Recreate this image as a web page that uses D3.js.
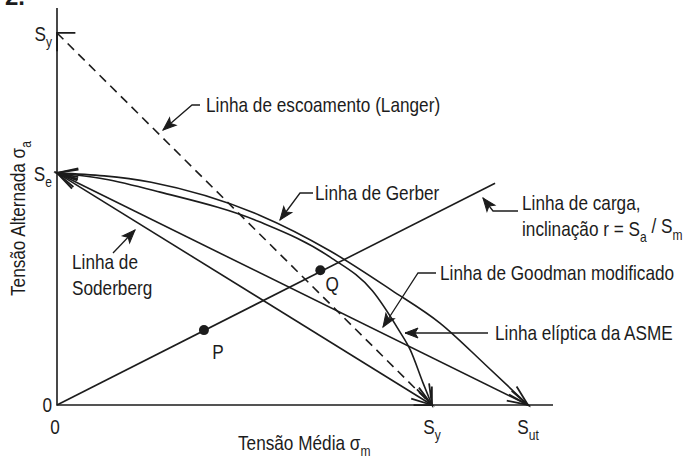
<!DOCTYPE html>
<html>
<head>
<meta charset="utf-8">
<script src="https://cdn.jsdelivr.net/npm/d3@7"></script>
<style>
  body { margin: 0; background: #fff; }
</style>
</head>
<body>
<svg id="chart"></svg>
<script>
// stresses in one common unit on both axes (Sut = 100)
const langer = [[0, 79.0], [79.6, 0]];
const soderberg = [[0, 49.3], [79.6, 0]];
const goodman = [[0, 49.3], [100, 0]];
const gerber = [[0, 49.3], [20, 47.3], [43, 40.3], [58, 32.7], [71, 24.4], [81.3, 17.4], [91, 8.5], [100, 0]];
const asme = [[0, 49.3], [10, 48.0], [21.9, 45.2], [43, 38.9], [58, 31.4], [67, 24.2], [72.5, 16], [75, 11.7], [77.7, 4.7], [79.6, 0]];
const loadLine = [[0, 0], [93, 47.1]];
const points = [{name: "P", m: 31.2, a: 15.9}, {name: "Q", m: 55.9, a: 28.6}];
const xTicks = [{v: 0, s: "0", sub: ""}, {v: 79.6, s: "S", sub: "y"}, {v: 100, s: "S", sub: "ut"}];
const yTicks = [{v: 0, s: "0", sub: ""}, {v: 49.3, s: "S", sub: "e"}, {v: 79.0, s: "S", sub: "y"}];

const W = 688, H = 461;
const ink = "#1c1c1c";
const font = '"Liberation Sans", Arial, sans-serif';
const fs = 20, fsSub = 14, sx = 0.86;   // narrow look: squeeze the glyphs sideways

const svg = d3.select("#chart")
    .attr("width", W)
    .attr("height", H)
    .attr("viewBox", [0, 0, W, H]);

const x = d3.scaleLinear().domain([0, 105.3]).range([57, 553]);
const y = d3.scaleLinear().domain([0, 84.3]).range([405, 8]);

const defs = svg.append("defs");
const marker = (id, d, filled) => defs.append("marker")
    .attr("id", id)
    .attr("markerUnits", "userSpaceOnUse")
    .attr("markerWidth", 60).attr("markerHeight", 60)
    .attr("refX", 0).attr("refY", 0)
    .attr("viewBox", [-30, -30, 60, 60])
    .attr("orient", "auto-start-reverse")
    .append("path")
    .attr("d", d)
    .attr("fill", filled ? ink : "none")
    .attr("stroke", ink)
    .attr("stroke-width", filled ? 1 : 1.8)
    .attr("stroke-linejoin", "miter");
marker("open", "M-21,-5.5L0,0L-21,5.5", false);
marker("wide", "M-13,-13L0,0L-13,13", false);
marker("solid", "M-13,-5L0,0L-13,5L-10,0Z", true);

const g = svg.append("g");

// axes
g.append("path")
    .attr("d", `M${x(0)},${y(84.3)}V${y(0)}H${x(105.3)}`)
    .attr("fill", "none").attr("stroke", ink).attr("stroke-width", 1.6);

const line = d3.line().x(d => x(d[0])).y(d => y(d[1]));
const smooth = d3.line().curve(d3.curveMonotoneX).x(d => x(d[0])).y(d => y(d[1]));

const draw = (data, gen, mk, dash) => g.append("path")
    .datum(data)
    .attr("d", gen)
    .attr("fill", "none")
    .attr("stroke", ink)
    .attr("stroke-width", 1.6)
    .attr("stroke-dasharray", dash || null)
    .attr("marker-start", mk ? `url(#${mk})` : null)
    .attr("marker-end", mk ? `url(#${mk})` : null);

draw(langer, line, "wide", "9,6");
draw(soderberg, line, "open");
draw(goodman, line, "open");
draw(gerber, smooth, "open");
draw(asme, smooth, "open");
draw(loadLine, line, null);

// text helper: squeezed text placed by transform
const styled = sel => sel
    .attr("font-family", font)
    .attr("font-size", fs)
    .attr("fill", ink);
const place = (px, py, rot) => `translate(${px},${py})${rot ? ` rotate(${rot})` : ""} scale(${sx},1)`;
const sub = (sel, s, up) => sel.append("tspan")
    .attr("dy", up ? "-0.45em" : "0.45em")
    .attr("font-size", up ? fs : fsSub)
    .text(s);

// P and Q
const ptOffset = {P: [14, 22], Q: [12, 14]};
g.selectAll("circle.pt")
    .data(points)
    .join("circle")
    .attr("class", "pt")
    .attr("cx", d => x(d.m))
    .attr("cy", d => y(d.a))
    .attr("r", 5)
    .attr("fill", ink);
g.selectAll("text.pt")
    .data(points)
    .join("text")
    .attr("class", "pt")
    .attr("transform", d => place(x(d.m) + ptOffset[d.name][0], y(d.a) + ptOffset[d.name][1]))
    .attr("dy", "0.35em")
    .attr("text-anchor", "middle")
    .call(styled)
    .text(d => d.name);

// tick labels with subscripts
const subLabel = sel => {
    sel.append("tspan").text(d => d.s);
    sel.append("tspan")
        .attr("dy", "0.45em")
        .attr("font-size", fsSub)
        .text(d => d.sub);
};
g.selectAll("text.xt")
    .data(xTicks)
    .join("text")
    .attr("class", "xt")
    .attr("transform", d => place(x(d.v) + (d.v === 0 ? -2 : 0), 427))
    .attr("dy", "0.35em")
    .attr("text-anchor", "middle")
    .call(styled)
    .call(subLabel);
g.selectAll("text.yt")
    .data(yTicks)
    .join("text")
    .attr("class", "yt")
    .attr("transform", d => place(x(0) - 5, y(d.v) + (d.v === 0 ? 0 : 1)))
    .attr("dy", "0.35em")
    .attr("text-anchor", "end")
    .call(styled)
    .call(subLabel);

// axis titles
const xt = g.append("text")
    .attr("transform", place(238, 443))
    .attr("dy", "0.35em")
    .call(styled);
xt.append("tspan").text("Tensão Média \u03c3");
sub(xt, "m");

const yt = g.append("text")
    .attr("transform", place(18, 296, -90))
    .attr("dy", "0.35em")
    .call(styled);
yt.append("tspan").text("Tensão Alternada \u03c3");
sub(yt, "a");

// callouts: leader from the text back to the curve
const callouts = [
    {lines: ["Linha de escoamento (Langer)"], tx: 206, ty: 105, path: [[200, 105], [192, 105], [163, 130]]},
    {lines: ["Linha de Gerber"], tx: 315, ty: 193, path: [[313, 193], [300, 193], [280, 220]]},
    {lines: ["Linha de carga,", null], tx: 522, ty: 203, path: [[518, 211], [493, 211], [483, 198]]},
    {lines: ["Linha de Goodman modificado"], tx: 440, ty: 273, path: [[436, 273], [418, 273], [383, 327]]},
    {lines: ["Linha elíptica da ASME"], tx: 495, ty: 333, path: [[488, 333], [405, 333]]},
    {lines: ["Linha de", "Soderberg"], tx: 72, ty: 262, path: [[113, 253], [135, 230]]}
];
callouts.forEach(c => {
    g.append("path")
        .attr("d", d3.line()(c.path))
        .attr("fill", "none").attr("stroke", ink).attr("stroke-width", 1.3)
        .attr("marker-end", "url(#solid)");
    c.lines.forEach((s, i) => {
        const t = g.append("text")
            .attr("transform", place(c.tx, c.ty + i * 26))
            .attr("dy", "0.35em")
            .call(styled);
        if (s !== null) {
            t.text(s);
        } else {
            t.append("tspan").text("inclinação r =  S");
            sub(t, "a");
            sub(t, " / S", true);
            sub(t, "m");
        }
    });
});

// figure number, cut by the top edge
svg.append("text")
    .attr("x", 5).attr("y", 5)
    .attr("font-family", font)
    .attr("font-weight", "bold").attr("font-size", 24).attr("fill", ink)
    .text("2.");
</script>
</body>
</html>
